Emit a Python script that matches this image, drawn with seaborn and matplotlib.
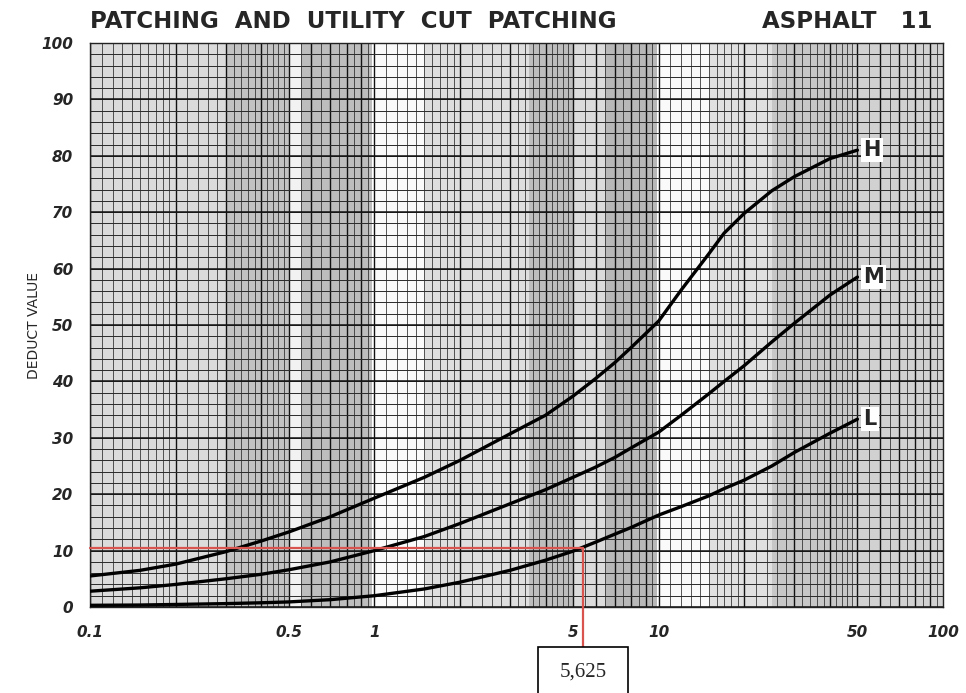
import numpy as np
import pandas as pd
import matplotlib
matplotlib.use("Agg")
import matplotlib.pyplot as plt
from matplotlib.patches import Rectangle
import seaborn as sns

# 곡선 데이터
area = [0.1, 0.15, 0.2, 0.3, 0.4, 0.5, 0.7, 1, 1.5, 2, 3, 4, 5, 6, 7, 8, 10, 12, 15, 17, 20, 25, 30, 40, 50]
deduct_h = [5.5, 6.5, 7.6, 9.8, 11.7, 13.3, 16.0, 19.3, 23.0, 26.0, 30.7, 34.0, 37.4, 40.5, 43.3, 46.0,
            50.7, 56.2, 62.6, 66.3, 69.8, 73.8, 76.3, 79.5, 81.0]
deduct_m = [2.8, 3.4, 4.0, 5.0, 5.8, 6.6, 8.0, 10.0, 12.5, 14.8, 18.3, 20.8, 23.0, 24.8, 26.5, 28.2,
            31.0, 34.0, 37.8, 40.0, 42.8, 47.0, 50.3, 55.3, 58.5]
deduct_l = [0.3, 0.35, 0.45, 0.6, 0.75, 0.9, 1.3, 2.0, 3.2, 4.4, 6.5, 8.3, 9.9, 11.5, 12.9, 14.1,
            16.3, 17.8, 19.7, 21.0, 22.5, 25.0, 27.4, 30.8, 33.3]
severity = ["H", "M", "L"]

# 축 눈금
x_ticks = [0.1, 0.5, 1, 5, 10, 50, 100]
x_tick_labels = ["0.1", "0.5", "1", "5", "10", "50", "100"]
y_ticks = list(range(0, 101, 10))

# 빨간 보조선 (그림에서 읽은 위치와 상자 글자)
read_area = 5.4
read_deduct = 10.5
read_label = "5,625"

df = pd.DataFrame({
    "area": area * 3,
    "deduct": deduct_h + deduct_m + deduct_l,
    "severity": [s for s in severity for _ in area],
})

sns.set_style("white")
plt.rcParams["font.family"] = ["DejaVu Sans"]

fig = plt.figure(figsize=(9.66, 6.93), dpi=100)
ax = fig.add_axes([90 / 966, 86 / 693, 853 / 966, 564 / 693])
ax.set_xscale("log")
ax.set_xlim(0.1, 100)
ax.set_ylim(0, 100)

# 스캔된 모눈종이 느낌의 회색 띠
bands = [(0.1, 0.3, 0.86), (0.3, 0.5, 0.76), (0.5, 0.55, 0.95), (0.55, 0.98, 0.74),
         (1.0, 1.5, 0.98), (1.5, 3.5, 0.87), (3.5, 5.0, 0.74), (5.0, 6.5, 0.86),
         (6.5, 9.9, 0.72), (10, 15, 0.98), (15, 25, 0.88), (25, 48, 0.78), (48, 100, 0.82)]
for a, b, g in bands:
    ax.axvspan(a, b, color=str(g), lw=0, zorder=0)

# 모눈 (대수 눈금)
vlines = []
for d in [0.1, 1, 10]:
    vlines += list(np.arange(1, 2, 0.1) * d) + list(np.arange(2, 5, 0.2) * d) + list(np.arange(5, 10, 0.5) * d)
ax.vlines(vlines, 0, 100, color="#2a2a2a", lw=0.55, zorder=1)
ax.vlines([k * d for d in [0.1, 1, 10] for k in range(1, 10)], 0, 100, color="#111111", lw=1.0, zorder=1)
ax.hlines(np.arange(0, 101, 2), 0.1, 100, color="#2a2a2a", lw=0.7, zorder=1)
ax.hlines(np.arange(0, 101, 10), 0.1, 100, color="#111111", lw=1.1, zorder=1)

sns.lineplot(data=df, x="area", y="deduct", hue="severity",
             palette={"H": "black", "M": "black", "L": "black"},
             linewidth=2.4, legend=False, ax=ax, zorder=5)

# 곡선 끝 라벨
for s, vals in zip(severity, [deduct_h, deduct_m, deduct_l]):
    ax.text(area[-1] * 1.05, vals[-1], s, fontsize=15, fontweight="bold", ha="left", va="center",
            zorder=6, bbox=dict(facecolor="white", edgecolor="none", pad=1.5))

for sp in ax.spines.values():
    sp.set_color("#222222")
    sp.set_linewidth(1.0)

ax.set_xticks(x_ticks)
ax.set_xticklabels(x_tick_labels)
minor = [k * d for d in [0.1, 1, 10] for k in range(2, 10) if k != 5]
ax.set_xticks(minor, minor=True)
ax.tick_params(axis="x", which="major", direction="out", length=10, width=1.5, pad=3,
               labelsize=11, color="#222222")
ax.tick_params(axis="x", which="minor", direction="out", length=6, width=1.3, color="#222222")
ax.xaxis.set_minor_formatter(plt.NullFormatter())
ax.set_yticks(y_ticks)
ax.tick_params(axis="y", direction="out", length=4, width=1.2, pad=8, labelsize=11, color="#222222")
for lab in ax.get_xticklabels() + ax.get_yticklabels():
    lab.set_fontweight("bold")
    lab.set_fontstyle("italic")
ax.set_xlabel("")
ax.set_ylabel("DEDUCT VALUE", fontsize=10, labelpad=0)

fig.text(90 / 966, 1 - 21 / 693, "PATCHING  AND  UTILITY  CUT  PATCHING", fontsize=16.5,
         fontweight="bold", ha="left", va="center")
fig.text(932 / 966, 1 - 21 / 693, "ASPHALT   11", fontsize=16.5, fontweight="bold",
         ha="right", va="center")

# 빨간 보조선과 값 상자
red = "#d9534f"
box_top = 647
y_bottom = ax.transData.inverted().transform(fig.transFigure.transform((0, 1 - box_top / 693)))[1]
ax.plot([0.1, read_area], [read_deduct, read_deduct], color=red, lw=1.6, zorder=7, clip_on=False)
ax.plot([read_area, read_area], [read_deduct, y_bottom], color=red, lw=1.6, zorder=7, clip_on=False)
fig.add_artist(Rectangle((538 / 966, -0.02), 90 / 966, 0.02 + (693 - box_top) / 693,
                         transform=fig.transFigure, facecolor="white", edgecolor="black", lw=1.2))
fig.text(583 / 966, 1 - 672 / 693, read_label, fontsize=15, family="Liberation Serif",
         ha="center", va="center")

fig.savefig("out.png", dpi=100, facecolor="white")
